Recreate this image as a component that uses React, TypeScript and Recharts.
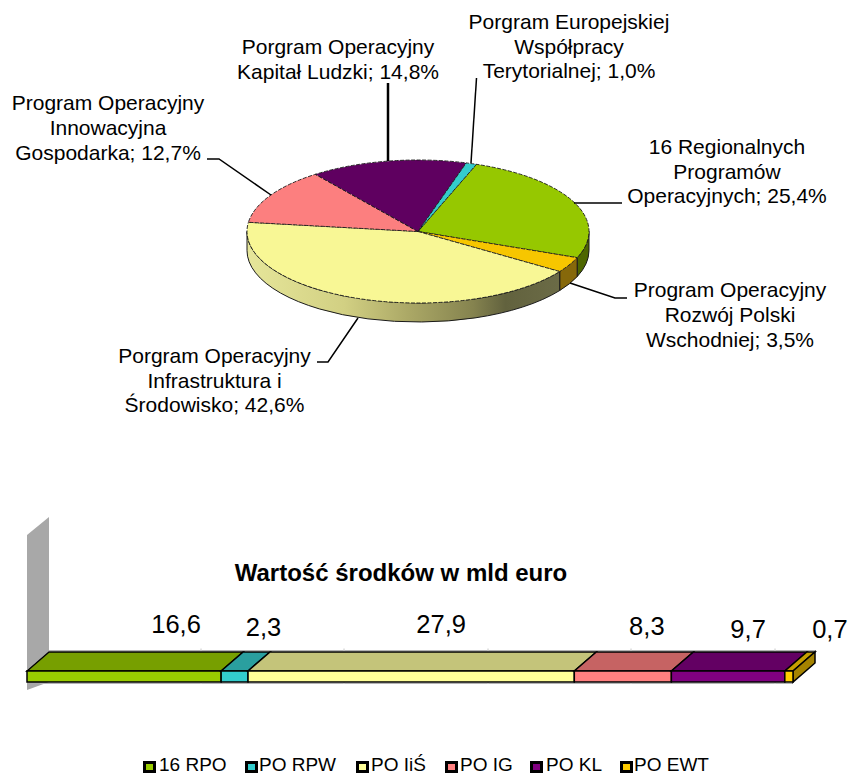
import React from 'react';
import { PieChart, Pie, BarChart, Bar, XAxis, YAxis, Legend, LabelList, Customized, Cell } from 'recharts';

const FONT = '"Liberation Sans", Arial, sans-serif';

// ---- data ----
const pieNames = ['16 RPO', 'PO RPW', 'PO IiŚ', 'PO IG', 'PO KL', 'PO EWT'];
const pieShares = [25.4, 3.5, 42.6, 12.7, 14.8, 1.0];
const pieLabelLines = [
  ['16 Regionalnych', 'Programów', 'Operacyjnych; 25,4%'],
  ['Program Operacyjny', 'Rozwój Polski', 'Wschodniej; 3,5%'],
  ['Porgram Operacyjny', 'Infrastruktura i', 'Środowisko; 42,6%'],
  ['Program Operacyjny', 'Innowacyjna', 'Gospodarka; 12,7%'],
  ['Porgram Operacyjny', 'Kapitał Ludzki; 14,8%'],
  ['Porgram Europejskiej', 'Współpracy', 'Terytorialnej; 1,0%'],
];
const barKeys = ['rpo', 'rpw', 'iis', 'ig', 'kl', 'ewt'];
const barValues = [16.6, 2.3, 27.9, 8.3, 9.7, 0.7];
const barTitle = 'Wartość środków w mld euro';

// ---- styles and layout ----
const pieColors = ['#96c800', '#f7c600', '#f8f795', '#fc7f7f', '#5f0060', '#33cccc'];
const wallColors = ['#4d6600', '#86680a', 'url(#wallGrad)', '#7f4040', '#300030', '#1a6666'];
const barFront = ['#99cc00', '#33cccc', '#ffff99', '#ff8080', '#800080', '#ffcc00'];
const barTop = ['#779f00', '#2a9f9f', '#c4c47a', '#c66363', '#630063', '#c69f00'];

const CX = 418;
const CY = 231.5;
const RX = 171;
const RY = 71.5;
const DEPTH = 19;

const labelAnchors = [
  { x: 727, y: 154, step: 24.5 },
  { x: 730, y: 297, step: 25 },
  { x: 214.5, y: 363, step: 24.5 },
  { x: 108, y: 110, step: 25 },
  { x: 338, y: 54, step: 25 },
  { x: 569, y: 29, step: 24.5 },
];
const leaderLines = [
  { pts: '574,203 622,203', w: 1.5 },
  { pts: '570,283 615,298 627,298', w: 1.5 },
  { pts: '358,318 328,362 317,362', w: 1.5 },
  { pts: '207,159 219,159 271,195', w: 1.5 },
  { pts: '388,83 388,161', w: 2.5 },
  { pts: '476.5,78 471,163', w: 1.5 },
];

const BAR_OFFSET_TOP = 440;
const BAR_DX = 22;
const BAR_DY = 19;
const LEGEND_TOP = 755.5;
const LEGEND_H = 17;
const barLabelShift = [52, 29, 30, 24, 20, 41];
const barLabelBaseline = [633, 636, 633, 635, 638, 638];
const legendSwatchX = [143, 245, 356, 445, 530, 620];
const legendTextX = [159, 259, 371, 460, 546, 634];
const floorTickX = [201, 344, 488, 631, 775];

const pt = (deg: number, dy = 0) => {
  const r = (deg * Math.PI) / 180;
  return `${(CX + RX * Math.cos(r)).toFixed(2)} ${(CY - RY * Math.sin(r) + dy).toFixed(2)}`;
};

const TopSector = (p: any) => {
  const { startAngle, endAngle, fill } = p;
  const large = Math.abs(startAngle - endAngle) > 180 ? 1 : 0;
  return (
    <path
      d={`M ${CX} ${CY} L ${pt(startAngle)} A ${RX} ${RY} 0 ${large} 1 ${pt(endAngle)} Z`}
      fill={fill}
      stroke="#1a1a1a"
      strokeWidth={0.9}
      strokeDasharray="4 1.5"
    />
  );
};

const WallSector = (p: any) => {
  const { startAngle, endAngle, fill } = p;
  const hi = Math.min(0, startAngle);
  const lo = Math.max(-180, endAngle);
  if (lo >= hi) return <g />;
  const large = hi - lo > 180 ? 1 : 0;
  return (
    <g>
      <defs>
        <linearGradient id="wallGrad" gradientUnits="userSpaceOnUse" x1={247} x2={570} y1={0} y2={0}>
          <stop offset="0" stopColor="#e6e69a" />
          <stop offset="0.3" stopColor="#d2d083" />
          <stop offset="0.5" stopColor="#aba866" />
          <stop offset="0.7" stopColor="#85834f" />
          <stop offset="0.8" stopColor="#62623e" />
          <stop offset="1" stopColor="#6d6d48" />
        </linearGradient>
      </defs>
      <path
        d={`M ${pt(hi)} A ${RX} ${RY} 0 ${large} 1 ${pt(lo)} L ${pt(lo, DEPTH)} A ${RX} ${RY} 0 ${large} 0 ${pt(hi, DEPTH)} Z`}
        fill={fill}
        stroke="#1a1a1a"
        strokeWidth={1}
      />
    </g>
  );
};

const renderPieLabel = (p: any) => {
  const i = p.index;
  const a = labelAnchors[i];
  const l = leaderLines[i];
  return (
    <g key={i}>
      <polyline points={l.pts} fill="none" stroke="#000" strokeWidth={l.w} />
      <text textAnchor="middle" fontFamily={FONT} fontSize={21} fill="#000">
        {pieLabelLines[i].map((line, n) => (
          <tspan key={n} x={a.x} y={a.y + n * a.step}>
            {line}
          </tspan>
        ))}
      </text>
    </g>
  );
};

const pieData = pieNames.map((name, i) => ({ name, value: pieShares[i] }));
const barRow = [
  Object.fromEntries([['name', 'Wartość'], ...barKeys.map((k, i) => [k, barValues[i]])]),
];

const BarShape3D = (p: any) => {
  const { x, y, width, height, idx } = p;
  const last = idx === barKeys.length - 1;
  return (
    <g stroke="#000" strokeWidth={1.5} strokeLinejoin="miter">
      <polygon
        points={`${x},${y} ${x + BAR_DX},${y - BAR_DY} ${x + width + BAR_DX},${y - BAR_DY} ${x + width},${y}`}
        fill={barTop[idx]}
      />
      {last && (
        <polygon
          points={`${x + width},${y} ${x + width + BAR_DX},${y - BAR_DY} ${x + width + BAR_DX},${y - BAR_DY + height} ${x + width},${y + height}`}
          fill="#a58300"
        />
      )}
      <rect x={x} y={y} width={width} height={height} fill={barFront[idx]} />
    </g>
  );
};

const BarBackdrop = () => (
  <g transform={`translate(0,${-BAR_OFFSET_TOP})`}>
    <polygon points="27,535 49,517 49,651 27,670 27,690 49,682 49,670 27,670" fill="#a8a8a8" />
    <line x1={49} y1={650.5} x2={816} y2={650.5} stroke="#b4b4b4" strokeWidth={1} />
    <line x1={40} y1={683.5} x2={793} y2={683.5} stroke="#b4b4b4" strokeWidth={1} />
    {floorTickX.map((x) => (
      <g key={x} stroke="#c8c8c8" strokeWidth={1}>
        <line x1={x} y1={682} x2={x} y2={684} />
        <line x1={x} y1={648.5} x2={x} y2={651} />
      </g>
    ))}
  </g>
);

const BarTitle = () => (
  <text
    x={401}
    y={581 - BAR_OFFSET_TOP}
    textAnchor="middle"
    fontFamily={FONT}
    fontWeight="bold"
    fontSize={24}
    fill="#000"
  >
    {barTitle}
  </text>
);

const makeBarLabel = (idx: number) => (p: any) => {
  const { x, width, value } = p;
  return (
    <text
      x={x + width / 2 + barLabelShift[idx]}
      y={barLabelBaseline[idx] - BAR_OFFSET_TOP}
      textAnchor="middle"
      fontFamily={FONT}
      fontSize={25.5}
      fill="#000"
    >
      {String(value).replace('.', ',')}
    </text>
  );
};

const LegendBlock = ({ payload }: any) => (
  <div style={{ position: 'relative', height: LEGEND_H, width: 850, fontFamily: FONT, fontSize: 19, color: '#000' }}>
    {(payload || []).map((e: any, i: number) => (
      <React.Fragment key={i}>
        <span
          style={{
            position: 'absolute',
            left: legendSwatchX[i],
            top: 5.5,
            width: 7,
            height: 6,
            border: '3px solid #000',
            background: barFront[i],
          }}
        />
        <span style={{ position: 'absolute', left: legendTextX[i], top: 0, lineHeight: `${LEGEND_H}px`, whiteSpace: 'nowrap' }}>
          {e.value}
        </span>
      </React.Fragment>
    ))}
  </div>
);

export default function App() {
  return (
    <div style={{ position: 'absolute', left: 0, top: 0, width: 850, height: 775, background: '#fff', overflow: 'hidden' }}>
      <div style={{ position: 'absolute', left: 0, top: 0 }}>
        <PieChart width={850} height={440} margin={{ top: 0, right: 0, bottom: 0, left: 0 }}>
          <Pie
            data={pieData}
            dataKey="value"
            nameKey="name"
            cx={CX}
            cy={CY}
            outerRadius={RX}
            startAngle={70}
            endAngle={-290}
            paddingAngle={0}
            isAnimationActive={false}
            label={false}
            labelLine={false}
            shape={WallSector}
          >
            {pieData.map((_, i) => (
              <Cell key={i} fill={wallColors[i]} />
            ))}
          </Pie>
          <Pie
            data={pieData}
            dataKey="value"
            nameKey="name"
            cx={CX}
            cy={CY}
            outerRadius={RX}
            startAngle={70}
            endAngle={-290}
            paddingAngle={0}
            isAnimationActive={false}
            label={renderPieLabel}
            labelLine={false}
            shape={TopSector}
          >
            {pieData.map((_, i) => (
              <Cell key={i} fill={pieColors[i]} />
            ))}
          </Pie>
        </PieChart>
      </div>
      <div style={{ position: 'absolute', left: 0, top: BAR_OFFSET_TOP }}>
        <BarChart
          width={850}
          height={775 - BAR_OFFSET_TOP}
          layout="vertical"
          data={barRow}
          margin={{ top: 666 - BAR_OFFSET_TOP, right: 57, bottom: 89 - LEGEND_H, left: 27 }}
          barSize={11}
        >
          <Customized component={BarBackdrop} />
          <Customized component={BarTitle} />
          <XAxis type="number" hide domain={[0, 65.5]} />
          <YAxis type="category" dataKey="name" hide />
          <Legend
            content={<LegendBlock />}
            itemSorter={null}
            wrapperStyle={{ left: 0, top: LEGEND_TOP - BAR_OFFSET_TOP, width: 850, height: LEGEND_H }}
          />
          {barKeys.map((k, i) => (
            <Bar
              key={k}
              dataKey={k}
              name={pieNames[i]}
              stackId="a"
              fill={barFront[i]}
              isAnimationActive={false}
              shape={(p: any) => <BarShape3D {...p} idx={i} />}
            >
              <LabelList dataKey={k} content={makeBarLabel(i)} />
            </Bar>
          ))}
        </BarChart>
      </div>
    </div>
  );
}
